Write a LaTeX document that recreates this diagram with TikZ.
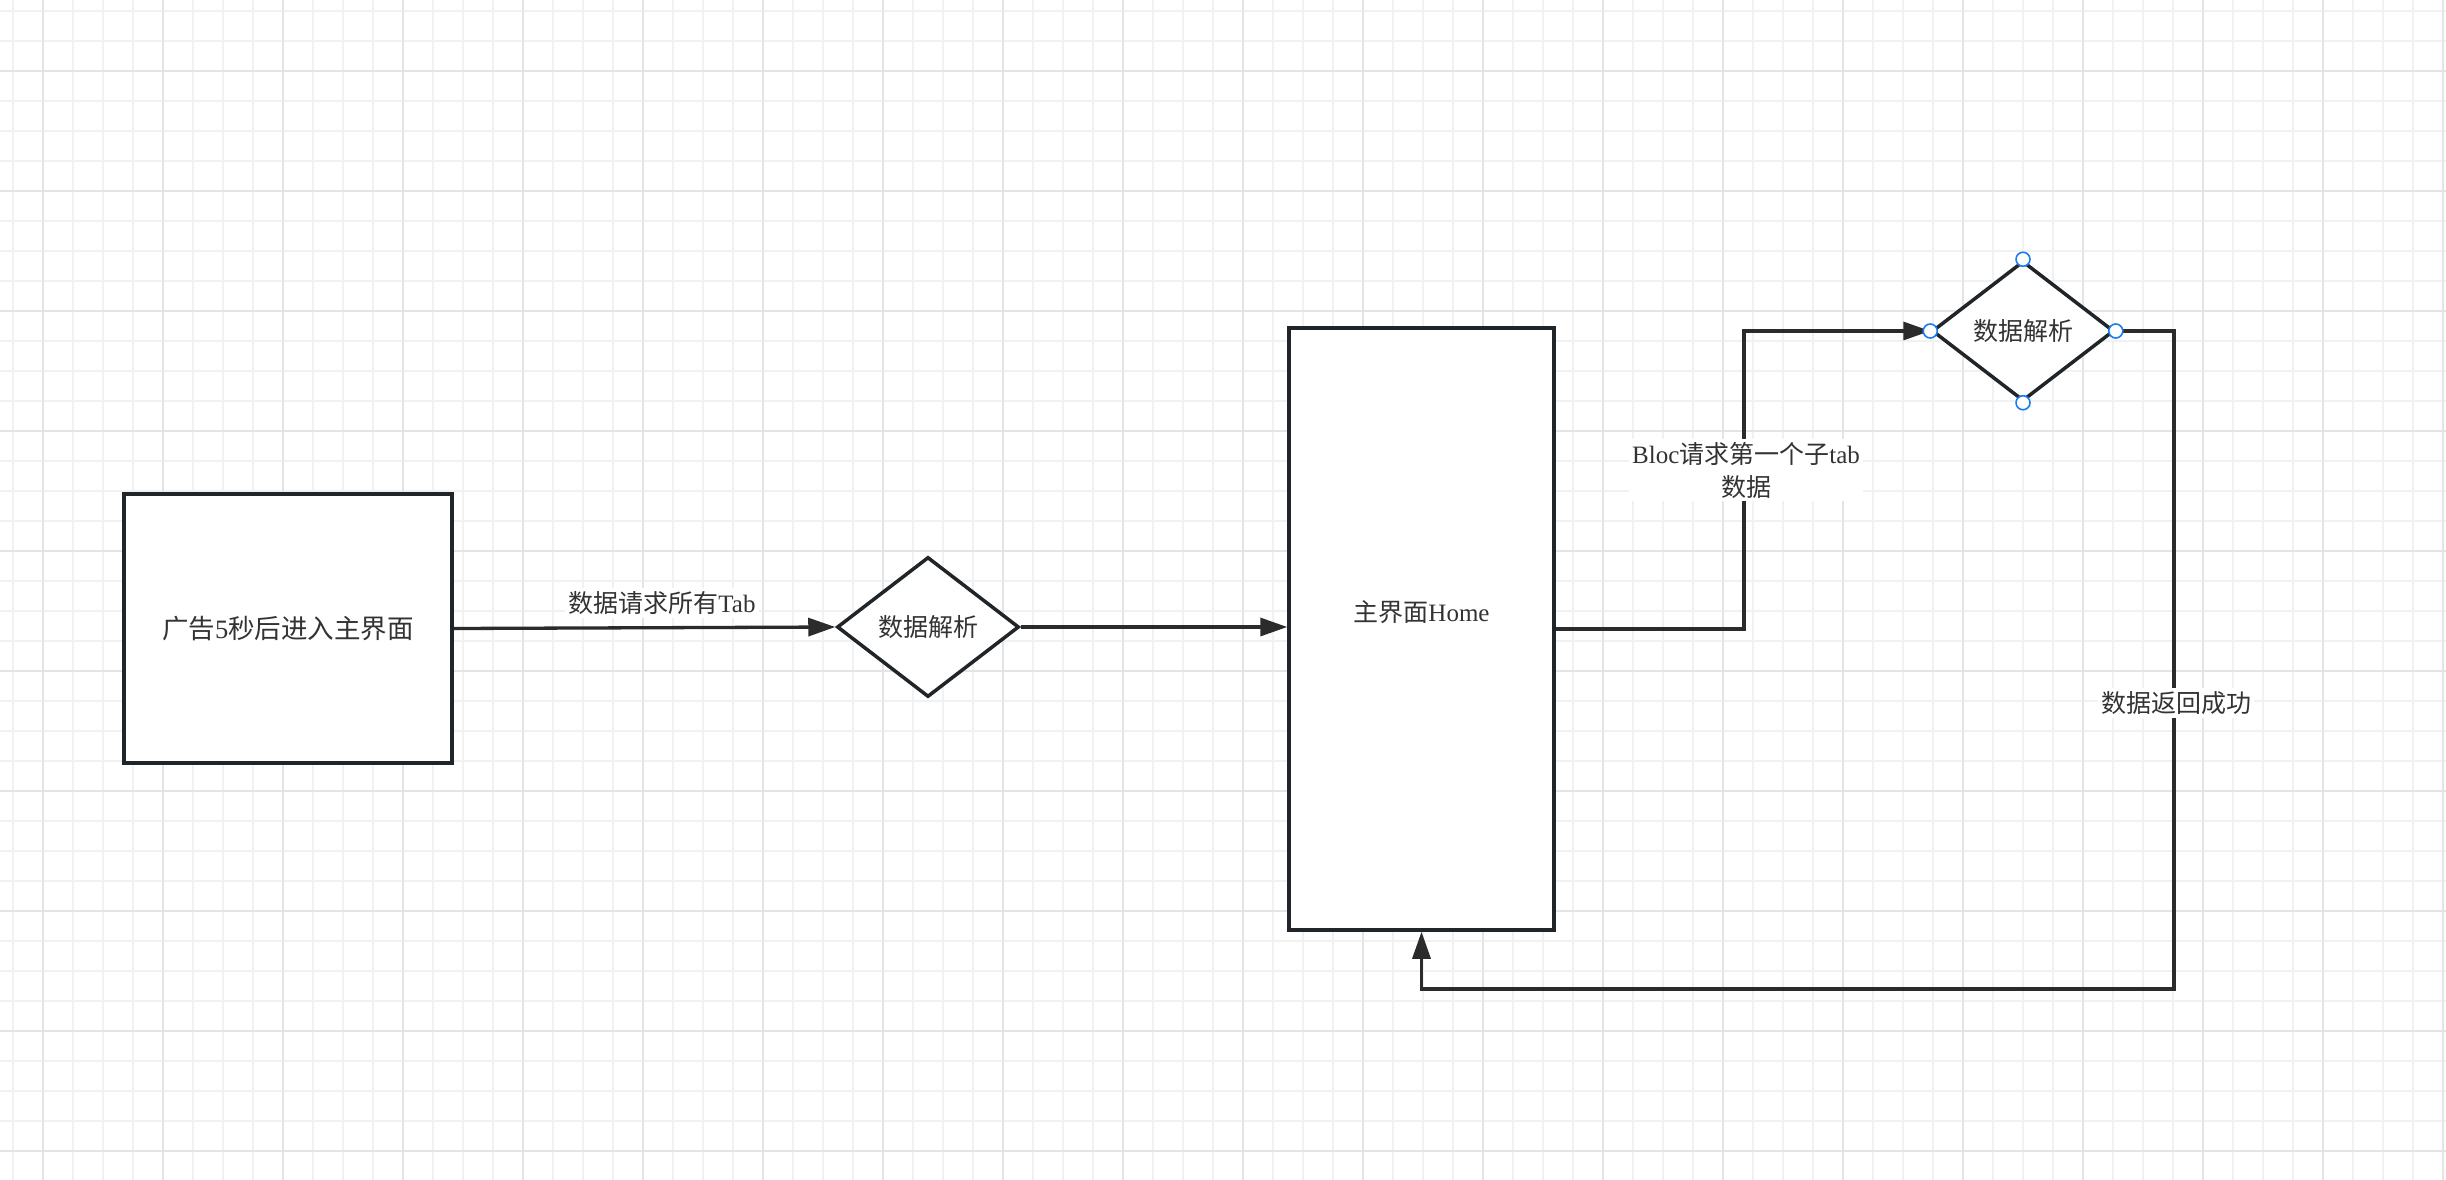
\documentclass[tikz,border=0pt]{standalone}
\usepackage{fontspec}
\setmainfont{Liberation Serif}
\newfontfamily\cjk{Noto Sans CJK SC}
\usetikzlibrary{arrows.meta,shapes.geometric}
\definecolor{gridminor}{HTML}{F1F1F1}
\definecolor{gridmajor}{HTML}{E4E4E4}
\definecolor{border}{HTML}{1F2529}
\definecolor{conncol}{HTML}{2B2B2B}
\definecolor{txtcol}{HTML}{333333}
\definecolor{handleblue}{HTML}{1A7CF0}
\begin{document}
\begin{tikzpicture}[x=1pt,y=-1pt,
 gridmin/.style={draw=gridminor,line width=2pt},
 gridmaj/.style={draw=gridmajor,line width=2pt},
 box/.style={draw=border,line width=3.5pt,fill=white,rectangle,inner sep=0pt,text=txtcol,font=\fontsize{25}{30}\selectfont},
 dec/.style={diamond,draw=border,line width=3.5pt,fill=white,inner sep=0pt,minimum width=182pt,minimum height=140pt,text=txtcol,font=\fontsize{25}{30}\selectfont\cjk},
 conn/.style={draw=conncol,line width=3.3pt,-{Triangle[length=27pt,width=18pt]}},
 lbl/.style={fill=white,text=txtcol,inner sep=3pt,align=center,font=\fontsize{25}{33}\selectfont},
 txt/.style={text=txtcol,inner sep=0pt,font=\fontsize{25}{30}\selectfont},
 handle/.style={circle,draw=handleblue,fill=white,line width=1.6pt,minimum size=14pt,inner sep=0pt}]
\useasboundingbox (0,0) rectangle (2446,1180);
\fill[white] (0,0) rectangle (2446,1180);
% grid
\foreach \i in {0,...,81} { \draw[gridmin] ({12.7+30*\i},0) -- ({12.7+30*\i},1180); }
\foreach \j in {0,...,39} { \draw[gridmin] (0,{11+30*\j}) -- (2446,{11+30*\j}); }
\foreach \i in {0,...,20} { \draw[gridmaj] ({42.7+120*\i},0) -- ({42.7+120*\i},1180); }
\foreach \j in {0,...,9} { \draw[gridmaj] (0,{71+120*\j}) -- (2446,{71+120*\j}); }
% nodes
\node[box,minimum width=328pt,minimum height=269pt,font=\fontsize{26.5}{32}\selectfont] (ad) at (288,628.5) {{\cjk 广告}5{\cjk 秒后进入主界面}};
\node[dec] (d1) at (928,627) {数据解析};
\node[box,minimum width=265pt,minimum height=602pt] (home) at (1421.5,629) {};
\node[txt] (hometext) at (1421.5,612) {{\cjk 主界面}Home};
\node[dec] (d2) at (2023,331) {数据解析};
% connectors
\draw[conn] (ad.east) -- (d1.west);
\node[lbl] (l1) at (662,603) {{\cjk 数据请求所有}Tab};
\draw[conn] (d1.east) -- (d1.east -| home.west);
\coordinate (up) at (1744,0);
\draw[conn] (home.east) -| (up |- d2.west) -- (d2.west);
\node[lbl] (l2) at (1746,470) {Bloc{\cjk 请求第一个子}tab\\{\cjk 数据}};
\coordinate (lowright) at (2174,989);
\draw[conn] (d2.east) -| (lowright) -| (home.south);
\node[lbl] (l3) at (2176,703) {{\cjk 数据返回成功}};
% selection handles
\node[handle] (h1) at (d2.north) {};
\node[handle] (h2) at (d2.south) {};
\node[handle] (h3) at (d2.west) {};
\node[handle] (h4) at (d2.east) {};
\end{tikzpicture}
\end{document}
